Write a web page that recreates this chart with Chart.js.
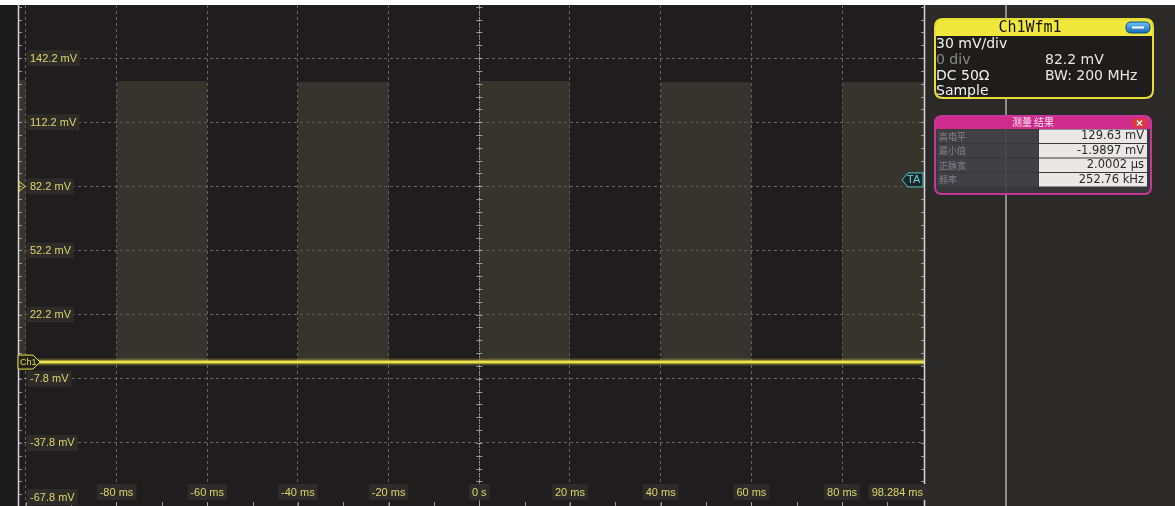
<!DOCTYPE html>
<html lang="zh">
<head>
<meta charset="UTF-8">
<title>Ch1Wfm1</title>
<style>
    body { margin: 0; padding: 0; background: #ffffff; }
    #scope { display: block; }
</style>
<script src="https://cdn.jsdelivr.net/npm/chart.js"></script>
</head>
<body>
<canvas id="scope" width="1175" height="506"></canvas>
<script>
// Fenêtre de temps (ms) et de tension (mV)
const timeMin = -101.716;
const timeMax = 98.284;
const voltMin = -67.3;
const voltMax = 167.0;

// Graticule
const xGrid = [-100, -80, -60, -40, -20, 0, 20, 40, 60, 80];
const yGrid = [142.2, 112.2, 82.2, 52.2, 22.2, -7.8, -37.8, -67.8];
const xLabelPos = [-80, -60, -40, -20, 0, 20, 40, 60, 80, 98.284];
const xLabelText = ['-80 ms', '-60 ms', '-40 ms', '-20 ms', '0 s', '20 ms', '40 ms', '60 ms', '80 ms', '98.284 ms'];
const yLabelText = ['142.2 mV', '112.2 mV', '82.2 mV', '52.2 mV', '22.2 mV', '-7.8 mV', '-37.8 mV', '-67.8 mV'];

// Rafales d'impulsions (début, fin en ms, niveau haut en mV)
const burstStart = [-101.716, -80, -40, 0, 40, 80];
const burstEnd = [-100, -60, -20, 20, 60, 98.284];
const burstHigh = [132, 131.5, 131, 131.5, 131, 131];
const baseLevel = 0;

// Panneau de droite
const chTitle = 'Ch1Wfm1';
const chInfoLeft = ['30 mV/div', '0 div', 'DC 50Ω', 'Sample'];
const chInfoRight = ['', '82.2 mV', 'BW: 200 MHz', ''];
const measTitle = '测量 结果';
const measLabels = ['高电平', '最小值', '正脉宽', '频率'];
const measValues = ['129.63 mV', '-1.9897 mV', '2.0002 µs', '252.76 kHz'];

// Construction de la trace remplie
const burstPoints = [];
burstStart.forEach((s, i) => {
    burstPoints.push({ x: s, y: baseLevel });
    burstPoints.push({ x: s, y: burstHigh[i] });
    burstPoints.push({ x: burstEnd[i], y: burstHigh[i] });
    burstPoints.push({ x: burstEnd[i], y: baseLevel });
});
const tracePoints = [{ x: timeMin, y: baseLevel }, { x: timeMax, y: baseLevel }];

const labelFont = '11px "Liberation Sans", Arial, sans-serif';
const labelColor = '#ddd56c';

function rr(ctx, x, y, w, h, r) {
    ctx.beginPath();
    ctx.moveTo(x + r, y);
    ctx.lineTo(x + w - r, y);
    ctx.quadraticCurveTo(x + w, y, x + w, y + r);
    ctx.lineTo(x + w, y + h - r);
    ctx.quadraticCurveTo(x + w, y + h, x + w - r, y + h);
    ctx.lineTo(x + r, y + h);
    ctx.quadraticCurveTo(x, y + h, x, y + h - r);
    ctx.lineTo(x, y + r);
    ctx.quadraticCurveTo(x, y, x + r, y);
    ctx.closePath();
}

function boxedLabel(ctx, text, x, y, align) {
    ctx.font = labelFont;
    const w = ctx.measureText(text).width;
    let left = x;
    if (align === 'center') left = x - w / 2;
    if (align === 'right') left = x - w;
    ctx.fillStyle = '#2d2c29';
    ctx.fillRect(left - 3, y - 8, w + 6, 16);
    ctx.fillStyle = labelColor;
    ctx.textBaseline = 'middle';
    ctx.textAlign = 'left';
    ctx.fillText(text, left, y + 0.5);
}

// Fond de l'écran
const backgroundPlugin = {
    id: 'scopeBackground',
    beforeDraw(chart) {
        const ctx = chart.ctx;
        const a = chart.chartArea;
        ctx.save();
        ctx.fillStyle = '#ffffff';
        ctx.fillRect(0, 0, chart.width, chart.height);
        ctx.fillStyle = '#1b1a1b';
        ctx.fillRect(0, a.top, a.left, chart.height - a.top);
        ctx.fillStyle = '#1f1d1e';
        ctx.fillRect(a.left, a.top, a.right - a.left, a.bottom - a.top);
        ctx.fillStyle = '#2b2a29';
        ctx.fillRect(a.right, a.top, chart.width - a.right, chart.height - a.top);
        ctx.restore();
    }
};

// Bords, graduations, étiquettes et repères
const overlayPlugin = {
    id: 'scopeOverlay',
    afterDatasetsDraw(chart) {
        const ctx = chart.ctx;
        const a = chart.chartArea;
        const xs = chart.scales.x;
        const ys = chart.scales.y;
        ctx.save();

        // bords blancs
        ctx.strokeStyle = '#d8d8d8';
        ctx.lineWidth = 1.5;
        ctx.beginPath();
        ctx.moveTo(a.left + 0.5, a.top); ctx.lineTo(a.left + 0.5, a.bottom);
        ctx.moveTo(a.right - 0.5, a.top); ctx.lineTo(a.right - 0.5, a.bottom);
        ctx.stroke();

        // graduations mineures
        ctx.strokeStyle = 'rgba(200,200,200,0.7)';
        ctx.lineWidth = 1;
        const x0 = xs.getPixelForValue(0);
        ctx.beginPath();
        for (let v = -67.8; v <= voltMax; v += 6) {
            const py = Math.round(ys.getPixelForValue(v)) + 0.5;
            if (py < a.top || py > a.bottom) continue;
            ctx.moveTo(a.left, py); ctx.lineTo(a.left + 4, py);
            ctx.moveTo(a.right, py); ctx.lineTo(a.right - 4, py);
            ctx.moveTo(x0 - 3, py); ctx.lineTo(x0 + 3, py);
        }
        for (let t = -100; t <= timeMax; t += 10) {
            const px = Math.round(xs.getPixelForValue(t)) + 0.5;
            ctx.moveTo(px, a.bottom); ctx.lineTo(px, a.bottom - 4);
        }
        ctx.stroke();

        // axe central
        ctx.strokeStyle = 'rgba(175,175,175,0.7)';
        ctx.setLineDash([2, 1]);
        ctx.beginPath();
        ctx.moveTo(Math.round(x0) + 0.5, a.top);
        ctx.lineTo(Math.round(x0) + 0.5, a.bottom);
        ctx.stroke();
        ctx.setLineDash([]);

        // étiquettes de tension
        yGrid.forEach((v, i) => {
            let py = ys.getPixelForValue(v);
            py = Math.min(py, a.bottom - 9);
            boxedLabel(ctx, yLabelText[i], a.left + 12, py, 'left');
        });

        // étiquettes de temps
        xLabelPos.forEach((t, i) => {
            const px = xs.getPixelForValue(t);
            const align = t === timeMax ? 'right' : 'center';
            boxedLabel(ctx, xLabelText[i], align === 'right' ? px - 2 : px, a.bottom - 14, align);
        });

        // repère de déclenchement (niveau)
        const trigY = ys.getPixelForValue(82.2);
        ctx.strokeStyle = '#e8df48';
        ctx.lineWidth = 1;
        ctx.beginPath();
        ctx.moveTo(a.left + 1, trigY - 5);
        ctx.lineTo(a.left + 7, trigY);
        ctx.lineTo(a.left + 1, trigY + 5);
        ctx.closePath();
        ctx.stroke();

        // repère Ch1
        const chY = ys.getPixelForValue(baseLevel);
        ctx.fillStyle = '#23211c';
        ctx.strokeStyle = '#e8df48';
        ctx.lineWidth = 1;
        ctx.beginPath();
        ctx.moveTo(a.left, chY - 7);
        ctx.lineTo(a.left + 15, chY - 7);
        ctx.lineTo(a.left + 22, chY);
        ctx.lineTo(a.left + 15, chY + 7);
        ctx.lineTo(a.left, chY + 7);
        ctx.closePath();
        ctx.fill();
        ctx.stroke();
        ctx.fillStyle = '#e8df48';
        ctx.font = '9px "Liberation Sans", Arial, sans-serif';
        ctx.textAlign = 'left';
        ctx.textBaseline = 'middle';
        ctx.fillText('Ch1', a.left + 2, chY + 0.5);

        // repère TA
        const taY = ys.getPixelForValue(85.2);
        ctx.fillStyle = '#1f2524';
        ctx.strokeStyle = '#4fc9d2';
        ctx.beginPath();
        ctx.moveTo(a.right - 2, taY - 7);
        ctx.lineTo(a.right - 17, taY - 7);
        ctx.lineTo(a.right - 23, taY);
        ctx.lineTo(a.right - 17, taY + 7);
        ctx.lineTo(a.right - 2, taY + 7);
        ctx.closePath();
        ctx.fill();
        ctx.stroke();
        ctx.fillStyle = '#5fd3db';
        ctx.font = '11px "Liberation Sans", Arial, sans-serif';
        ctx.fillText('TA', a.right - 18, taY + 0.5);

        ctx.restore();
    },
    afterDraw(chart) {
        const ctx = chart.ctx;
        const a = chart.chartArea;
        ctx.save();

        // ligne grise du panneau
        ctx.strokeStyle = '#8d8d8d';
        ctx.lineWidth = 2;
        ctx.beginPath();
        ctx.moveTo(1006, a.top);
        ctx.lineTo(1006, chart.height);
        ctx.stroke();

        // boîte Ch1Wfm1
        rr(ctx, 935, 19, 218, 79, 8);
        ctx.fillStyle = '#1e1d1b';
        ctx.fill();
        ctx.save();
        rr(ctx, 935, 19, 218, 79, 8);
        ctx.clip();
        ctx.fillStyle = '#f1e83c';
        ctx.fillRect(935, 19, 218, 17);
        ctx.restore();
        rr(ctx, 935, 19, 218, 79, 8);
        ctx.strokeStyle = '#e6dd36';
        ctx.lineWidth = 2;
        ctx.stroke();

        ctx.fillStyle = '#111111';
        ctx.font = '15px "DejaVu Sans Mono", monospace';
        ctx.textAlign = 'center';
        ctx.textBaseline = 'middle';
        ctx.fillText(chTitle, 1030, 28);

        const g = ctx.createLinearGradient(0, 22, 0, 33);
        g.addColorStop(0, '#6cc4f4');
        g.addColorStop(1, '#1668b8');
        rr(ctx, 1126, 22, 24, 11, 5);
        ctx.fillStyle = g;
        ctx.fill();
        ctx.strokeStyle = '#0d4c8c';
        ctx.lineWidth = 1;
        ctx.stroke();
        ctx.fillStyle = '#ffffff';
        ctx.fillRect(1132, 26.5, 12, 2);

        ctx.font = '14px "DejaVu Sans", sans-serif';
        ctx.textAlign = 'left';
        const infoY = [44, 60, 76, 91];
        chInfoLeft.forEach((t, i) => {
            ctx.fillStyle = i === 1 ? '#8a8a86' : '#f2f2f0';
            ctx.fillText(t, 936, infoY[i]);
            if (chInfoRight[i]) {
                ctx.fillStyle = '#e8e8e6';
                ctx.fillText(chInfoRight[i], 1045, infoY[i]);
            }
        });

        // boîte des mesures
        rr(ctx, 935, 116, 216, 78, 7);
        ctx.fillStyle = 'rgba(58,56,60,0.85)';
        ctx.fill();
        ctx.save();
        rr(ctx, 935, 116, 216, 78, 7);
        ctx.clip();
        ctx.fillStyle = '#cf2b8c';
        ctx.fillRect(935, 116, 216, 13);
        ctx.restore();

        ctx.fillStyle = '#f4e8f0';
        ctx.font = '10px "Noto Sans CJK SC", sans-serif';
        ctx.textAlign = 'center';
        ctx.fillText(measTitle, 1033, 122.5);

        rr(ctx, 1132, 118.5, 15, 9, 3);
        ctx.fillStyle = '#e23a3a';
        ctx.fill();
        ctx.strokeStyle = '#ffffff';
        ctx.lineWidth = 1.5;
        ctx.beginPath();
        ctx.moveTo(1137, 120.5); ctx.lineTo(1142, 125.5);
        ctx.moveTo(1142, 120.5); ctx.lineTo(1137, 125.5);
        ctx.stroke();

        measLabels.forEach((lab, i) => {
            const top = 129 + i * 14.5;
            ctx.fillStyle = 'rgba(74,72,78,0.55)';
            ctx.fillRect(937, top + 0.5, 101, 13.5);
            ctx.fillStyle = '#ebe7e7';
            ctx.fillRect(1039, top + 0.5, 108, 13.5);
            ctx.fillStyle = '#85838a';
            ctx.font = '9px "Noto Sans CJK SC", sans-serif';
            ctx.textAlign = 'left';
            ctx.fillText(lab, 939, top + 7.5);
            ctx.fillStyle = '#2a2a2a';
            ctx.font = '11.5px "DejaVu Sans", sans-serif';
            ctx.textAlign = 'right';
            ctx.fillText(measValues[i], 1144, top + 7.5);
        });

        rr(ctx, 935, 116, 216, 78, 7);
        ctx.strokeStyle = '#c8369a';
        ctx.lineWidth = 2;
        ctx.stroke();

        ctx.restore();
    }
};

const ctx = document.getElementById('scope').getContext('2d');
const scopeChart = new Chart(ctx, {
    type: 'line',
    data: {
        datasets: [
            {
                label: 'Ch1 halo',
                data: tracePoints,
                borderColor: 'rgba(236,226,70,0.25)',
                borderWidth: 7,
                pointRadius: 0,
                fill: false
            },
            {
                label: 'Ch1',
                data: tracePoints,
                borderColor: '#ece24a',
                borderWidth: 3,
                pointRadius: 0,
                fill: false
            },
            {
                label: 'Rafales',
                data: burstPoints,
                borderColor: 'rgba(0,0,0,0)',
                borderWidth: 0,
                backgroundColor: 'rgba(78,75,58,0.5)',
                pointRadius: 0,
                fill: 'origin'
            }
        ]
    },
    options: {
        responsive: false,
        animation: false,
        devicePixelRatio: 1,
        layout: { padding: { left: 18, right: 250, top: 5, bottom: 0 } },
        plugins: {
            legend: { display: false },
            tooltip: { enabled: false }
        },
        scales: {
            x: {
                type: 'linear',
                min: timeMin,
                max: timeMax,
                afterBuildTicks: (scale) => { scale.ticks = xGrid.map(v => ({ value: v })); },
                ticks: { display: false },
                grid: { color: 'rgba(150,150,150,0.6)', lineWidth: 1, drawTicks: false },
                border: { display: false, dash: [3, 3] }
            },
            y: {
                type: 'linear',
                min: voltMin,
                max: voltMax,
                afterBuildTicks: (scale) => { scale.ticks = yGrid.map(v => ({ value: v })); },
                ticks: { display: false },
                grid: { color: 'rgba(150,150,150,0.6)', lineWidth: 1, drawTicks: false },
                border: { display: false, dash: [3, 3] }
            }
        }
    },
    plugins: [backgroundPlugin, overlayPlugin]
});
</script>
</body>
</html>
